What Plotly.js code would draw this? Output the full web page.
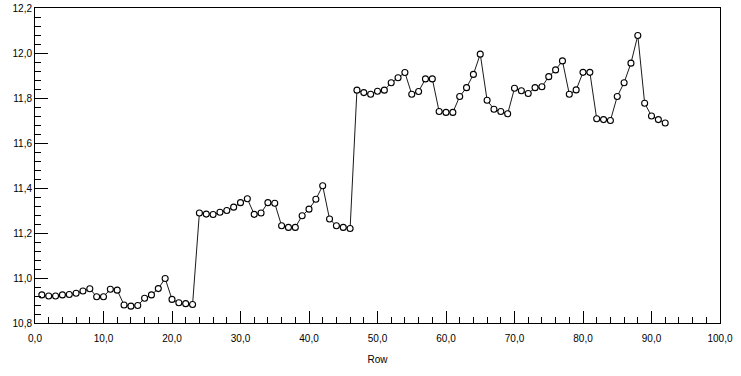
<!DOCTYPE html>
<html>
<head>
<meta charset="utf-8">
<script src="https://cdn.plot.ly/plotly-3.0.1.min.js"></script>
<style>
  html, body { margin: 0; padding: 0; background: #ffffff; }
  #chart { width: 741px; height: 376px; }
</style>
</head>
<body>
<div id="chart"></div>
<script>
const rows = [1,2,3,4,5,6,7,8,9,10,11,12,13,14,15,16,17,18,19,20,
  21,22,23,24,25,26,27,28,29,30,31,32,33,34,35,36,37,38,39,40,
  41,42,43,44,45,46,47,48,49,50,51,52,53,54,55,56,57,58,59,60,
  61,62,63,64,65,66,67,68,69,70,71,72,73,74,75,76,77,78,79,80,
  81,82,83,84,85,86,87,88,89,90,91,92];
const values = [10.925,10.92,10.92,10.925,10.927,10.932,10.942,10.952,10.917,10.917,
  10.95,10.946,10.88,10.875,10.878,10.91,10.925,10.953,10.998,10.905,
  10.89,10.886,10.882,11.289,11.284,11.282,11.292,11.30,11.315,11.335,
  11.352,11.283,11.289,11.335,11.332,11.232,11.225,11.225,11.277,11.306,
  11.35,11.41,11.262,11.232,11.225,11.22,11.835,11.824,11.817,11.83,
  11.835,11.868,11.89,11.913,11.817,11.829,11.885,11.885,11.74,11.736,
  11.736,11.807,11.846,11.905,11.995,11.79,11.75,11.74,11.73,11.843,
  11.832,11.82,11.846,11.85,11.895,11.925,11.965,11.817,11.836,11.914,
  11.914,11.708,11.704,11.70,11.807,11.868,11.955,12.078,11.777,11.72,
  11.704,11.689];
const xTitle = "Row";

const trace = {
  x: rows, y: values, type: 'scatter', mode: 'lines+markers',
  line: {color: '#000000', width: 0.9},
  marker: {symbol: 'circle', size: 6, color: '#ffffff', line: {color: '#000000', width: 1.1}},
  hoverinfo: 'skip'
};

const font = {family: 'Liberation Sans, Arial, sans-serif', size: 10, color: '#000000'};

const layout = {
  width: 741, height: 376,
  margin: {l: 35, r: 21, t: 8, b: 53},
  paper_bgcolor: '#ffffff', plot_bgcolor: '#ffffff',
  separators: ', ',
  showlegend: false,
  font: font,
  xaxis: {
    range: [0, 100], tick0: 0, dtick: 10, tickformat: '.1f',
    ticks: 'inside', ticklen: 12, tickcolor: '#000', tickwidth: 1,
    minor: {dtick: 2, ticks: 'inside', ticklen: 6, tickcolor: '#000', showgrid: false},
    showgrid: false, zeroline: false,
    showline: true, linecolor: '#000', linewidth: 1, mirror: true,
    tickfont: font, ticklabelstandoff: 6,
    title: {text: xTitle, font: font, standoff: 12}
  },
  yaxis: {
    range: [10.8, 12.2], tick0: 10.8, dtick: 0.2, tickformat: '.1f',
    ticks: 'inside', ticklen: 13, tickcolor: '#000', tickwidth: 1,
    minor: {dtick: 0.04, ticks: 'inside', ticklen: 6, tickcolor: '#000', showgrid: false},
    showgrid: false, zeroline: false,
    showline: true, linecolor: '#000', linewidth: 1, mirror: true,
    tickfont: font
  }
};

Plotly.newPlot('chart', [trace], layout, {staticPlot: true, displayModeBar: false});
</script>
</body>
</html>
